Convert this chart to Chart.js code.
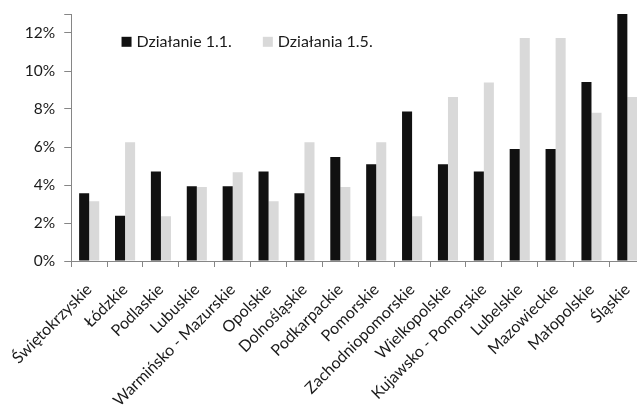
<!DOCTYPE html>
<html>
<head>
<meta charset="utf-8">
<script src="https://cdn.jsdelivr.net/npm/chart.js@4"></script>
<style>
  html, body { margin: 0; padding: 0; background: #fff; overflow: hidden; }
  #wrap { width: 680px; height: 407px; }
</style>
</head>
<body>
<div id="wrap"><canvas id="c" width="680" height="407"></canvas></div>
<script>
// Voivodeships, ordered as on the axis
const regions = [
  'Świętokrzyskie', 'Łódzkie', 'Podlaskie', 'Lubuskie', 'Warmińsko - Mazurskie',
  'Opolskie', 'Dolnośląskie', 'Podkarpackie', 'Pomorskie', 'Zachodniopomorskie',
  'Wielkopolskie', 'Kujawsko - Pomorskie', 'Lubelskie', 'Mazowieckie', 'Małopolskie', 'Śląskie'
];
// Share of projects per region (%)
const dzialanie11 = [3.57, 2.38, 4.71, 3.94, 3.94, 4.71, 3.57, 5.48, 5.09, 7.87, 5.09, 4.71, 5.90, 5.90, 9.42, 13.0];
const dzialania15 = [3.15, 6.25, 2.36, 3.90, 4.67, 3.15, 6.25, 3.90, 6.25, 2.36, 8.63, 9.40, 11.74, 11.74, 7.80, 8.63];
const seriesNames = ['Działanie 1.1.', 'Działania 1.5.'];
const yTicks = [0, 2, 4, 6, 8, 10, 12];

const FONT = 'Lato, "DejaVu Sans", sans-serif';
const TEXT = '#1a1a1a';
const AXIS = '#868686';

// Legend drawn inside the plot area, in a single row near the top
const innerLegend = {
  id: 'innerLegend',
  afterDatasetsDraw(chart) {
    const ctx = chart.ctx;
    const area = chart.chartArea;
    let x = area.left + 50.3;
    const y = 41.8;
    ctx.save();
    ctx.font = '16px ' + FONT;
    ctx.textBaseline = 'middle';
    ctx.textAlign = 'left';
    chart.data.datasets.forEach((ds) => {
      ctx.fillStyle = ds.backgroundColor;
      ctx.fillRect(x, y - 5, 10, 10);
      ctx.fillStyle = TEXT;
      ctx.fillText(ds.label, x + 15, y + 0.5);
      x += 141.3;
    });
    ctx.restore();
  }
};

new Chart(document.getElementById('c'), {
  type: 'bar',
  data: {
    labels: regions,
    datasets: [
      { label: seriesNames[0], data: dzialanie11, backgroundColor: '#111111', borderWidth: 0 },
      { label: seriesNames[1], data: dzialania15, backgroundColor: '#d9d9d9', borderWidth: 0 }
    ]
  },
  options: {
    responsive: false,
    animation: false,
    devicePixelRatio: 1,
    layout: { padding: { top: 14, right: 34.7, left: 0, bottom: 0 } },
    plugins: { legend: { display: false }, tooltip: { enabled: false } },
    datasets: { bar: { barPercentage: 1.0, categoryPercentage: 0.56 } },
    scales: {
      x: {
        grid: { display: true, drawOnChartArea: false, drawTicks: true, tickLength: 6, color: AXIS, offset: true },
        border: { display: true, color: AXIS, width: 1 },
        ticks: {
          color: TEXT,
          font: { family: FONT, size: 16 },
          maxRotation: 45, minRotation: 45,
          autoSkip: false,
          padding: 13
        },
        afterFit(scale) { scale.height = 146; }
      },
      y: {
        min: 0, max: 13,
        bounds: 'data',
        grid: { display: true, drawOnChartArea: false, drawTicks: true, tickLength: 7, color: AXIS },
        border: { display: true, color: AXIS, width: 1 },
        ticks: {
          stepSize: 2,
          includeBounds: false,
          color: TEXT,
          font: { family: FONT, size: 15.5 },
          padding: 9,
          callback: (v) => yTicks.includes(v) ? v + '%' : ''
        },
        afterFit(scale) {
          scale.width = 70.7;
          // the plot reaches 13%, above the last labelled tick, so no extra room is needed
          scale.paddingTop = 0;
          scale.paddingBottom = 0;
        }
      }
    }
  },
  plugins: [innerLegend]
});
</script>
</body>
</html>
